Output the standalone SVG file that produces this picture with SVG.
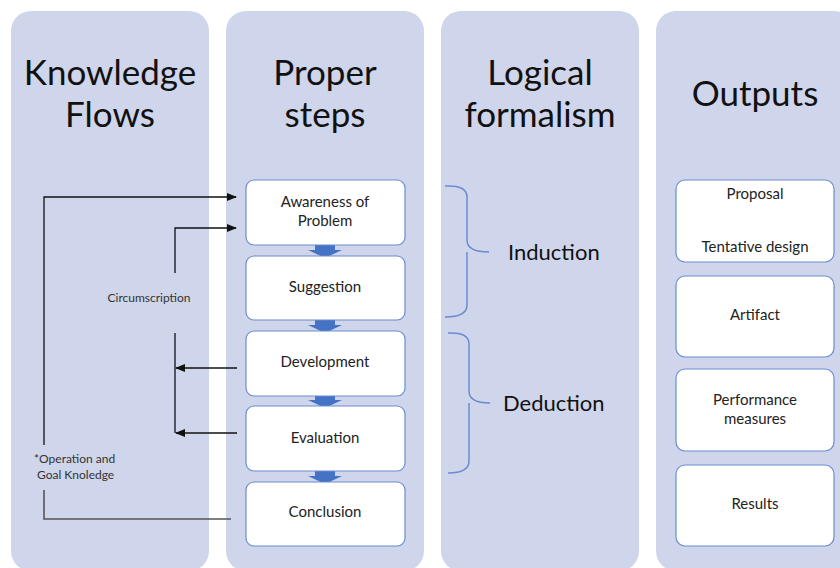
<svg xmlns="http://www.w3.org/2000/svg" width="840" height="568" viewBox="0 0 840 568">
<style>
.col{fill:#CFD5EA}
.hdr{font-family:Lato,"Liberation Sans",sans-serif;font-size:35px;fill:#111;text-anchor:middle}
.box{fill:#fff;stroke:#6B8CD1;stroke-width:1.2}
.t{font-family:Lato,"Liberation Sans",sans-serif;font-size:15px;fill:#222;text-anchor:middle}
.lg{font-family:Lato,"Liberation Sans",sans-serif;font-size:22px;fill:#111}
.sm{font-family:Lato,"Liberation Sans",sans-serif;font-size:12px;fill:#333}
.ln{fill:none;stroke:#111;stroke-width:1.3}
.ln2{fill:none;stroke:#555;stroke-width:1.6}
.br{fill:none;stroke:#6B8CD1;stroke-width:1.5}
.ba{fill:#4472C4}
</style>
<defs>
<marker id="ah" markerWidth="10" markerHeight="8" refX="9" refY="4" orient="auto" markerUnits="userSpaceOnUse">
<path d="M0,0 L10,4 L0,8 z" fill="#111"/>
</marker>
</defs>
<rect width="840" height="568" fill="#fff"/>
<g id="columns">
<rect class="col" x="11" y="11" width="198" height="560" rx="20"/>
<rect class="col" x="226" y="11" width="198" height="560" rx="20"/>
<rect class="col" x="441" y="11" width="198" height="560" rx="20"/>
<rect class="col" x="656" y="11" width="198" height="560" rx="20"/>
</g>
<g id="headers">
<text class="hdr" x="110" y="85">Knowledge</text>
<text class="hdr" x="110" y="127">Flows</text>
<text class="hdr" x="325" y="85">Proper</text>
<text class="hdr" x="325" y="127">steps</text>
<text class="hdr" x="540" y="85">Logical</text>
<text class="hdr" x="540" y="127">formalism</text>
<text class="hdr" x="755" y="106">Outputs</text>
</g>
<g id="step-arrows">
<path class="ba" d="M315,245 h20 v5 h7 l-17,8 l-17,-8 h7 z"/>
<path class="ba" d="M315,320 h20 v5 h7 l-17,8 l-17,-8 h7 z"/>
<path class="ba" d="M315,395 h20 v5 h7 l-17,8 l-17,-8 h7 z"/>
<path class="ba" d="M315,471 h20 v5 h7 l-17,8 l-17,-8 h7 z"/>
</g>
<g id="awareness">
<rect class="box" x="246" y="180" width="159" height="65" rx="8"/>
<text class="t" x="325" y="207">Awareness of</text>
<text class="t" x="325" y="226">Problem</text>
</g>
<g id="suggestion">
<rect class="box" x="246" y="256" width="159" height="64" rx="8"/>
<text class="t" x="325" y="292">Suggestion</text>
</g>
<g id="development">
<rect class="box" x="246" y="331" width="159" height="65" rx="8"/>
<text class="t" x="325" y="367">Development</text>
</g>
<g id="evaluation">
<rect class="box" x="246" y="406" width="159" height="65" rx="8"/>
<text class="t" x="325" y="443">Evaluation</text>
</g>
<g id="conclusion">
<rect class="box" x="246" y="482" width="159" height="64" rx="8"/>
<text class="t" x="325" y="517">Conclusion</text>
</g>
<g id="connectors">
<path class="ln" d="M44,445 V197 H236" marker-end="url(#ah)"/>
<path class="ln2" d="M44,490 V519 H231"/>
<path class="ln" d="M175,273 V228 H236" marker-end="url(#ah)"/>
<path class="ln" d="M175,333 V433"/>
<path class="ln" d="M237,368 H176" marker-end="url(#ah)"/>
<path class="ln" d="M237,433 H176" marker-end="url(#ah)"/>
</g>
<g id="flow-labels">
<text class="sm" x="149" y="302" text-anchor="middle">Circumscription</text>
<text class="sm" x="34" y="463">*Operation and</text>
<text class="sm" x="37" y="479">Goal Knoledge</text>
</g>
<g id="induction">
<path class="br" d="M445,186 Q467,185 467,197 V240 Q467,252 489,252 M467,252 Q467,252 467,264 V305 Q467,317 445,317"/>
<text class="lg" x="508" y="260">Induction</text>
</g>
<g id="deduction">
<path class="br" d="M448,333 Q469,332 469,344 V391 Q469,403 490,403 M469,403 V461 Q469,473 448,473"/>
<text class="lg" x="503" y="411">Deduction</text>
</g>
<g id="proposal">
<rect class="box" x="676" y="180" width="158" height="82" rx="9"/>
<text class="t" x="755" y="199">Proposal</text>
<text class="t" x="755" y="252">Tentative design</text>
</g>
<g id="artifact">
<rect class="box" x="676" y="276" width="158" height="81" rx="9"/>
<text class="t" x="755" y="320">Artifact</text>
</g>
<g id="performance">
<rect class="box" x="676" y="369" width="158" height="82" rx="9"/>
<text class="t" x="755" y="405">Performance</text>
<text class="t" x="755" y="424">measures</text>
</g>
<g id="results">
<rect class="box" x="676" y="465" width="158" height="81" rx="9"/>
<text class="t" x="755" y="509">Results</text>
</g>
</svg>
